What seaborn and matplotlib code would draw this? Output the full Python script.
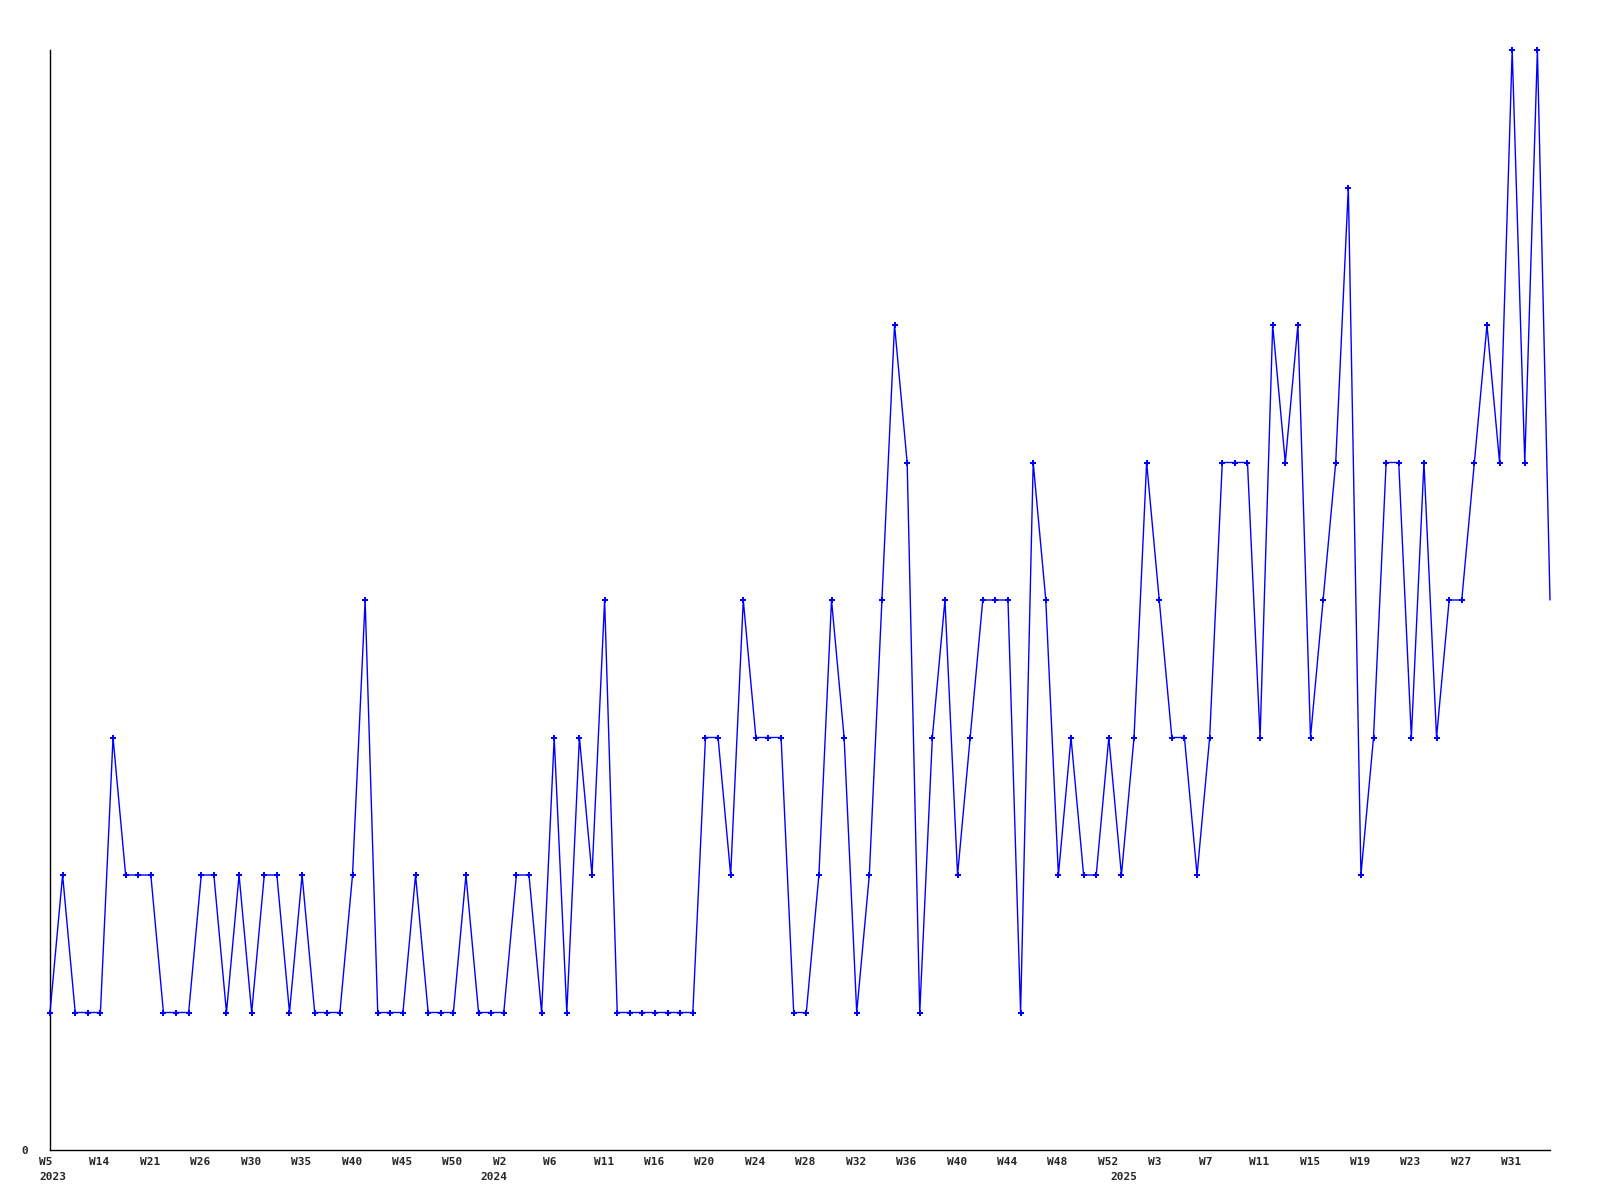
import seaborn as sns
import matplotlib.pyplot as plt
import matplotlib.transforms as mtransforms
import pandas as pd

# weekly counts, one point per week shown
values = [1, 2, 1, 1, 1, 3, 2, 2, 2, 1,
          1, 1, 2, 2, 1, 2, 1, 2, 2, 1,
          2, 1, 1, 1, 2, 4, 1, 1, 1, 2,
          1, 1, 1, 2, 1, 1, 1, 2, 2, 1,
          3, 1, 3, 2, 4, 1, 1, 1, 1, 1,
          1, 1, 3, 3, 2, 4, 3, 3, 3, 1,
          1, 2, 4, 3, 1, 2, 4, 6, 5, 1,
          3, 4, 2, 3, 4, 4, 4, 1, 5, 4,
          2, 3, 2, 2, 3, 2, 3, 5, 4, 3,
          3, 2, 3, 5, 5, 5, 3, 6, 5, 6,
          3, 4, 5, 7, 2, 3, 5, 5, 3, 5,
          3, 4, 4, 5, 6, 5, 8, 5, 8, 4]

week_labels = ["W5", "W14", "W21", "W26", "W30", "W35", "W40", "W45", "W50", "W2",
               "W6", "W11", "W16", "W20", "W24", "W28", "W32", "W36", "W40", "W44",
               "W48", "W52", "W3", "W7", "W11", "W15", "W19", "W23", "W27", "W31"]
week_label_pos = list(range(0, 120, 4))

years = ["2023", "2024", "2025"]
year_pos = [0, 35, 85]

df = pd.DataFrame({"i": range(len(values)), "count": values})

sns.set_style("white")
plt.rcParams['font.family'] = ['DejaVu Sans Mono', 'DejaVu Sans']
plt.rcParams['font.weight'] = 'bold'

fig = plt.figure(figsize=(16, 12), dpi=100)
ax = fig.add_axes([50 / 1600, 50 / 1200, 1500 / 1600, 1100 / 1200])

sns.lineplot(data=df, x="i", y="count", ax=ax, color="#0000ff", linewidth=1.0,
             marker="P", markersize=4.5, markeredgewidth=0, markevery=slice(0, 119),
             clip_on=False, zorder=3)

ax.set_xlim(0, 119)
ax.set_ylim(0, 8)
ax.set_xlabel("")
ax.set_ylabel("")

ax.set_yticks([0])
ax.set_yticklabels(["0"], fontsize=8, fontweight="bold")
ax.tick_params(axis="y", length=0, pad=16)

ax.set_xticks(week_label_pos)
ax.set_xticklabels(week_labels, fontsize=8, fontweight="bold")
ax.tick_params(axis="x", length=0, pad=5)
shift = mtransforms.ScaledTranslation(-11 / 100, 0, fig.dpi_scale_trans)
for lbl in ax.get_xticklabels():
    lbl.set_horizontalalignment("left")
    lbl.set_transform(lbl.get_transform() + shift)

for yr, p in zip(years, year_pos):
    ax.annotate(yr, xy=(p, 0), xycoords=("data", "axes fraction"),
                xytext=(-11 * 0.72, -22 * 0.72), textcoords="offset points",
                ha="left", va="top", fontsize=8, fontweight="bold")

for side in ["top", "right"]:
    ax.spines[side].set_visible(False)
for side in ["left", "bottom"]:
    ax.spines[side].set_color("black")
    ax.spines[side].set_linewidth(1.0)

fig.savefig("out.png", dpi=100)
